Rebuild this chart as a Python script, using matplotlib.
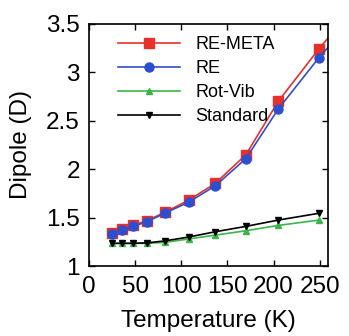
import matplotlib
matplotlib.use("Agg")
import matplotlib.pyplot as plt

temperature = [25, 36, 48, 63, 82, 108, 137, 170, 205, 249]
temperature_ext = temperature + [300]
re_meta = [1.34, 1.38, 1.42, 1.47, 1.555, 1.68, 1.855, 2.15, 2.70, 3.24, 3.82]
re = [1.33, 1.37, 1.41, 1.46, 1.545, 1.66, 1.83, 2.11, 2.62, 3.15, 3.70]
rot_vib = [1.235, 1.235, 1.235, 1.235, 1.245, 1.28, 1.32, 1.365, 1.42, 1.475]
standard = [1.235, 1.235, 1.235, 1.24, 1.26, 1.30, 1.355, 1.41, 1.475, 1.545]

xticks = [0, 50, 100, 150, 200, 250]
yticks = [1, 1.5, 2, 2.5, 3, 3.5]
ytick_labels = ["1", "1.5", "2", "2.5", "3", "3.5"]

plt.rcParams['font.family'] = ['Liberation Sans', 'DejaVu Sans']

fig = plt.figure(figsize=(3.49, 3.36), dpi=100)
ax = fig.add_axes([0.255, 0.208, 0.685, 0.721])

ax.plot(temperature_ext, re_meta, color='#e8302a', marker='s', markersize=6.5,
        lw=1.2, label='RE-META')
ax.plot(temperature_ext, re, color='#3350c0', marker='o', markersize=6.5,
        markerfacecolor='#2c4fd0', markeredgecolor='#2c4fd0', lw=1.2, label='RE')
ax.plot(temperature, rot_vib, color='#3cb44a', marker='^', markersize=5,
        lw=1.2, label='Rot-Vib')
ax.plot(temperature, standard, color='black', marker='v', markersize=5,
        lw=1.2, label='Standard')

ax.set_xlim(0, 259)
ax.set_ylim(1, 3.5)
ax.set_xticks(xticks)
ax.set_yticks(yticks)
ax.set_yticklabels(ytick_labels)
ax.tick_params(direction='in', top=True, right=True, labelsize=17.5,
               length=4, width=1)
ax.tick_params(axis='x', pad=7)
ax.tick_params(axis='y', pad=6.5)
for s in ax.spines.values():
    s.set_linewidth(1.2)

ax.set_xlabel('Temperature (K)', fontsize=17.5, labelpad=9)
ax.set_ylabel('Dipole (D)', fontsize=17.5, labelpad=10)

ax.legend(loc='upper left', bbox_to_anchor=(0.07, 1.0), frameon=False,
          fontsize=13, handlelength=3.4, handletextpad=0.85,
          labelspacing=0.38, borderaxespad=0.3)

fig.savefig('out.png', dpi=100)
